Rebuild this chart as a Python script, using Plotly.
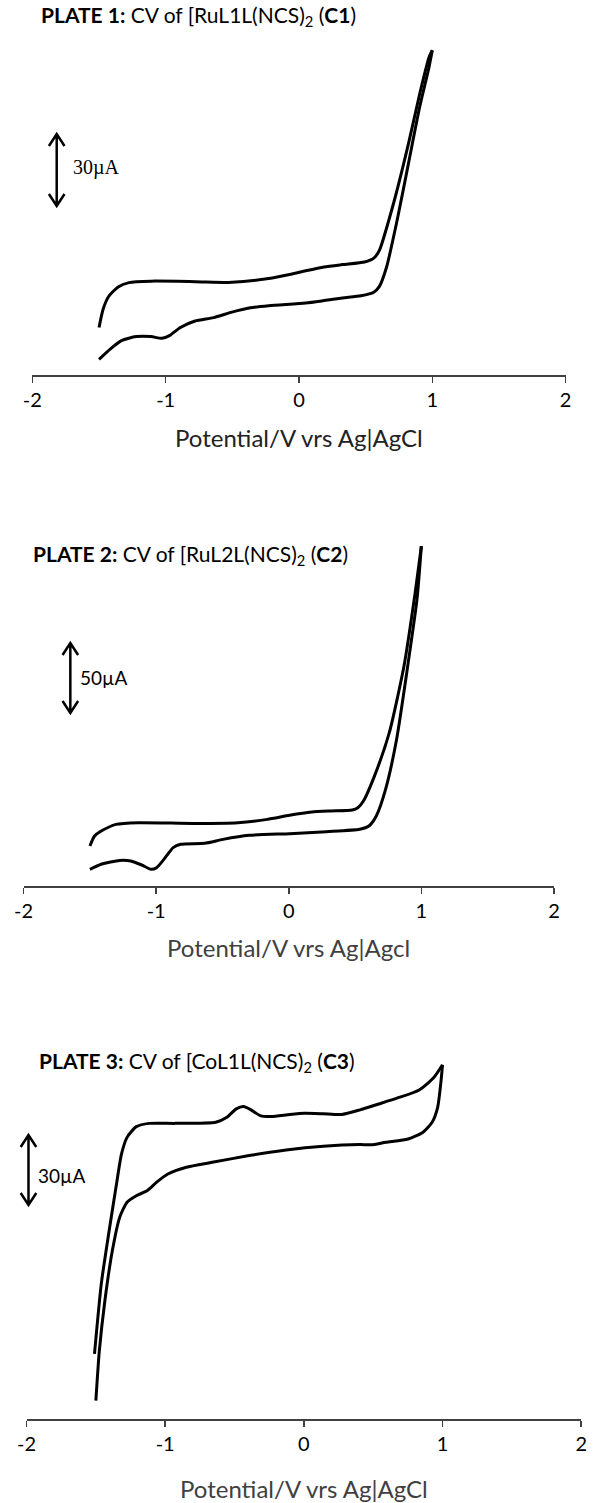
import plotly.graph_objects as go

W, H = 594, 1503

# ---------------- data (potential V, current µA above baseline) ----------------
p1_upper_E = [-1.5, -1.47, -1.428, -1.359, -1.276, -1.11, -0.779, -0.503, -0.227, -0.061, 0.05, 0.188, 0.326, 0.492, 0.561, 0.602, 0.713, 0.823, 0.906, 0.975, 1.0]
p1_upper_I = [19.8, 27.3, 32.7, 36.6, 38.5, 39.1, 38.9, 38.6, 40.2, 42.0, 43.4, 45.0, 46.0, 47.1, 48.7, 51.8, 72.3, 96.8, 117.3, 132.3, 135.3]
p1_lower_E = [-1.5, -1.414, -1.331, -1.221, -1.11, -1.028, -0.972, -0.89, -0.779, -0.641, -0.503, -0.365, -0.227, 0.05, 0.188, 0.326, 0.464, 0.561, 0.602, 0.657, 0.74, 0.823, 0.906, 0.975, 1.0]
p1_lower_I = [6.5, 10.9, 14.3, 16.0, 16.0, 15.3, 16.4, 19.8, 22.5, 23.9, 26.2, 28.0, 28.9, 30.0, 31.0, 32.1, 33.0, 34.5, 36.8, 45.0, 65.5, 88.7, 111.9, 128.2, 135.3]

p2_upper_E = [-1.5, -1.465, -1.415, -1.304, -1.136, -0.719, -0.384, -0.162, 0.006, 0.173, 0.312, 0.479, 0.521, 0.563, 0.646, 0.758, 0.869, 0.953, 1.0]
p2_upper_I = [28.6, 35.7, 39.3, 44.0, 45.2, 44.7, 45.2, 47.6, 50.5, 52.8, 53.6, 54.3, 55.9, 60.7, 78.5, 109.5, 157.1, 209.4, 242.8]
p2_lower_E = [-1.5, -1.415, -1.276, -1.192, -1.109, -1.039, -0.997, -0.942, -0.872, -0.816, -0.635, -0.496, -0.301, 0.006, 0.284, 0.535, 0.604, 0.66, 0.73, 0.813, 0.897, 0.967, 1.0]
p2_lower_I = [11.9, 15.5, 18.3, 17.9, 15.0, 11.9, 13.1, 19.0, 27.4, 29.8, 30.5, 33.3, 36.2, 37.4, 38.8, 40.5, 42.8, 50.0, 69.0, 104.7, 157.1, 204.7, 242.8]

p3_upper_E = [-1.51, -1.461, -1.408, -1.355, -1.315, -1.275, -1.208, -1.115, -0.928, -0.635, -0.555, -0.488, -0.435, -0.381, -0.315, -0.235, -0.101, 0.005, 0.139, 0.272, 0.405, 0.539, 0.672, 0.832, 0.939, 1.0]
p3_upper_I = [27.9, 57.9, 79.3, 99.3, 113.6, 120.7, 125.3, 126.7, 126.7, 127.2, 129.3, 132.9, 133.9, 132.5, 130.0, 129.6, 130.5, 131.0, 130.8, 130.5, 132.5, 135.0, 137.5, 141.0, 146.5, 151.8]
p3_lower_E = [-1.5, -1.475, -1.435, -1.381, -1.328, -1.275, -1.208, -1.128, -1.061, -0.981, -0.848, -0.661, -0.395, -0.128, 0.139, 0.405, 0.485, 0.592, 0.752, 0.859, 0.925, 0.965, 0.987, 1.0]
p3_lower_I = [7.9, 29.3, 50.7, 72.2, 86.5, 92.9, 95.7, 97.9, 101.5, 105.0, 107.9, 110.0, 112.9, 115.3, 116.9, 117.6, 117.5, 118.6, 120.0, 122.9, 127.2, 133.6, 143.6, 151.8]

tick_vals = [-2, -1, 0, 1, 2]
tick_text = ["-2", "-1", "0", "1", "2"]

titles = [
    "<b>PLATE 1:</b> CV of [RuL1L(NCS)<sub>2</sub> (<b>C1</b>)",
    "<b>PLATE 2:</b> CV of [RuL2L(NCS)<sub>2</sub> (<b>C2</b>)",
    "<b>PLATE 3:</b> CV of [CoL1L(NCS)<sub>2</sub> (<b>C3</b>)",
]
xtitles = ["Potential/V vrs Ag|AgCl", "Potential/V vrs Ag|Agcl", "Potential/V vrs Ag|AgCl"]
scale_labels = ["30µA", "50µA", "30µA"]

# ---------------- layout geometry (pixels) ----------------
panels = [
    dict(x0=23, x1=571, ybase=375, ytop=20, upp=30 / 72.0, title_xy=(30, 16), xt_y=437,
         arrow=(48, 134, 206), lab=(63, 168), labfont="Liberation Serif", labsize=20,
         xtcolor="#222222"),
    dict(x0=14, x1=559, ybase=886, ytop=525, upp=50 / 70.0, title_xy=(22, 555), xt_y=947,
         arrow=(62, 643, 713), lab=(70, 677), labfont="Lato", labsize=19, xtcolor="#404040"),
    dict(x0=17, x1=587, ybase=1419, ytop=1050, upp=30 / 70.0, title_xy=(28, 1062), xt_y=1488,
         arrow=(19, 1135, 1205), lab=(27, 1175), labfont="Lato", labsize=19, xtcolor="#404040"),
]
data = [
    (p1_upper_E, p1_upper_I, p1_lower_E, p1_lower_I),
    (p2_upper_E, p2_upper_I, p2_lower_E, p2_lower_I),
    (p3_upper_E, p3_upper_I, p3_lower_E, p3_lower_I),
]

def px(x):
    return x / W

def py(y):
    return 1 - y / H

fig = go.Figure()
layout = dict(width=W, height=H, margin=dict(l=0, r=0, t=0, b=0),
              paper_bgcolor="white", plot_bgcolor="white", showlegend=False)
annotations = []
shapes = []

for i, (pan, (ue, ui, le, li)) in enumerate(zip(panels, data)):
    n = "" if i == 0 else str(i + 1)
    xa, ya = "x" + n, "y" + n
    for E, I in ((ue, ui), (le, li)):
        fig.add_trace(go.Scatter(x=E, y=I, xaxis=xa, yaxis=ya, mode="lines",
                                 line=dict(color="black", width=3, shape="spline", smoothing=0.6),
                                 hoverinfo="skip"))
    ymax = (pan["ybase"] - pan["ytop"]) * pan["upp"]
    layout["xaxis" + n] = dict(domain=[px(pan["x0"]), px(pan["x1"])], range=[-2, 2],
                               anchor=ya, showline=True, linecolor="#404040", linewidth=1.5,
                               ticks="outside", ticklen=6, tickwidth=1.5, tickcolor="#404040",
                               tickvals=tick_vals, ticktext=tick_text, showgrid=False,
                               zeroline=False, tickfont=dict(family="Lato", size=20, color="black"),
                               ticklabeloverflow="allow", fixedrange=True)
    layout["yaxis" + n] = dict(domain=[py(pan["ybase"]), py(pan["ytop"])], range=[0, ymax],
                               anchor=xa, visible=False, fixedrange=True)
    # title
    annotations.append(dict(text=titles[i], xref="paper", yref="paper",
                            x=px(pan["title_xy"][0]), y=py(pan["title_xy"][1]),
                            xanchor="left", yanchor="middle", showarrow=False,
                            font=dict(family="Lato", size=21, color="black")))
    # x axis title
    annotations.append(dict(text=xtitles[i], xref="paper", yref="paper",
                            x=px((pan["x0"] + pan["x1"]) / 2), y=py(pan["xt_y"]),
                            xanchor="center", yanchor="middle", showarrow=False,
                            font=dict(family="Lato", size=24, color=pan["xtcolor"])))
    # scale bar label
    annotations.append(dict(text=scale_labels[i], xref="paper", yref="paper",
                            x=px(pan["lab"][0]), y=py(pan["lab"][1]),
                            xanchor="left", yanchor="middle", showarrow=False,
                            font=dict(family=pan["labfont"], size=pan["labsize"], color="black")))
    # double-headed scale arrow
    ax, at, ab = pan["arrow"]
    hw, hh = 8, 12
    path = (f"M {px(ax)} {py(at)} L {px(ax)} {py(ab)} "
            f"M {px(ax - hw)} {py(at + hh)} L {px(ax)} {py(at)} L {px(ax + hw)} {py(at + hh)} "
            f"M {px(ax - hw)} {py(ab - hh)} L {px(ax)} {py(ab)} L {px(ax + hw)} {py(ab - hh)}")
    shapes.append(dict(type="path", xref="paper", yref="paper", path=path,
                       line=dict(color="black", width=2.5)))

layout["annotations"] = annotations
layout["shapes"] = shapes
fig.update_layout(**layout)
fig.write_html("out.html", config={"displayModeBar": False, "staticPlot": True},
               post_script="document.body.style.margin='0';document.body.style.overflow='hidden';")
